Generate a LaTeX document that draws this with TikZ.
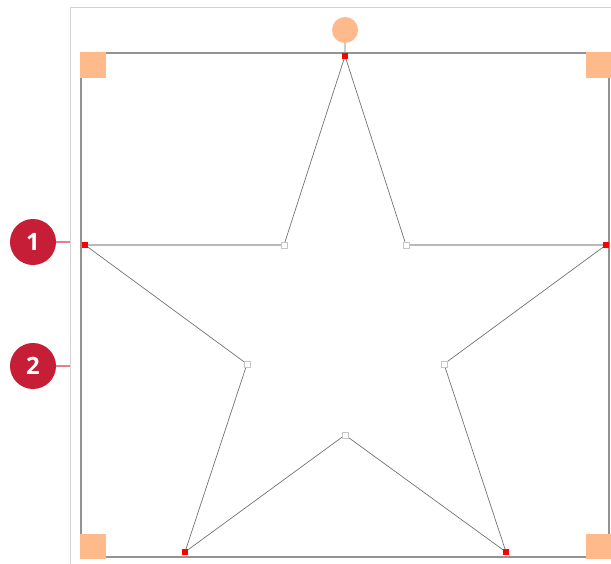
\documentclass[tikz,border=0pt]{standalone}
\usepackage{fontspec}
\setmainfont{Open Sans}
\usetikzlibrary{positioning}
\definecolor{handleorange}{RGB}{255,186,140}
\definecolor{markerred}{RGB}{197,30,54}
\definecolor{leaderpink}{RGB}{228,128,142}
\tikzset{
    handle/.style={
        rectangle,
        fill=handleorange,
        minimum size=0.625cm,
        inner sep=0pt
    },
    rotator/.style={
        circle,
        fill=handleorange,
        minimum size=0.65cm,
        inner sep=0pt
    },
    vertex/.style={
        rectangle,
        fill=red,
        minimum size=0.17cm,
        inner sep=0pt
    },
    notch/.style={
        rectangle,
        draw=gray!45,
        fill=white,
        line width=0.4pt,
        minimum size=0.16cm,
        inner sep=0pt
    },
    marker/.style={
        circle,
        fill=markerred,
        text=white,
        minimum size=1.15cm,
        inner sep=0pt,
        font=\fontsize{17}{17}\selectfont\bfseries
    },
    edge/.style={
        draw=gray!90!black,
        line width=0.5pt
    },
    flat/.style={
        draw=gray!55,
        line width=1.1pt
    }
}

\begin{document}
\begin{tikzpicture}[x=0.025cm, y=-0.025cm]
    \useasboundingbox (0,0) rectangle (611,564);
    % outer frame and bounding box
    \draw[gray!35, line width=0.7pt] (70,564) -- (70,7) -- (611,7);
    \draw[gray!85, line width=1.3pt] (81,53) rectangle (609,557);

    % star points
    \node[vertex] (top) at (345,56) {};
    \node[vertex] (left) at (85,245) {};
    \node[vertex] (right) at (606,245) {};
    \node[vertex] (botleft) at (185,552) {};
    \node[vertex] (botright) at (506,552) {};
    \node[notch] (ileft) at (284,245) {};
    \node[notch] (iright) at (406,245) {};
    \node[notch] (ilow) at (247,364) {};
    \node[notch] (rlow) at (444,364) {};
    \node[notch] (ibot) at (345,435) {};

    \draw[edge] (top.center) -- (ileft.center);
    \draw[flat] (ileft.center) -- (left.center);
    \draw[edge] (left.center) -- (ilow.center);
    \draw[edge] (ilow.center) -- (botleft.center);
    \draw[edge] (botleft.center) -- (ibot.center);
    \draw[edge] (ibot.center) -- (botright.center);
    \draw[edge] (botright.center) -- (rlow.center);
    \draw[edge] (rlow.center) -- (right.center);
    \draw[flat] (right.center) -- (iright.center);
    \draw[edge] (iright.center) -- (top.center);

    % redraw point markers on top of lines
    \foreach \p in {top,left,right,botleft,botright}
        \node[vertex] at (\p) {};
    \foreach \p in {ileft,iright,ilow,rlow,ibot}
        \node[notch] at (\p) {};

    % resize and rotate handles
    \node[handle] (tl) at (93,65) {};
    \node[handle] (tr) at (598,65) {};
    \node[handle] (bl) at (93,546) {};
    \node[handle] (br) at (598,546) {};
    \node[rotator] (rot) at (345,30) {};
    \draw[gray!40, line width=0.8pt] (rot) -- (top);

    % callouts
    \node[marker] (one) at (33,242) {1};
    \node[marker] (two) at (33,366) {2};
    \coordinate (onetip) at (70,242);
    \coordinate (twotip) at (70,366);
    \draw[leaderpink, line width=0.8pt] (one) -- (onetip);
    \draw[leaderpink, line width=0.8pt] (two) -- (twotip);
\end{tikzpicture}
\end{document}
